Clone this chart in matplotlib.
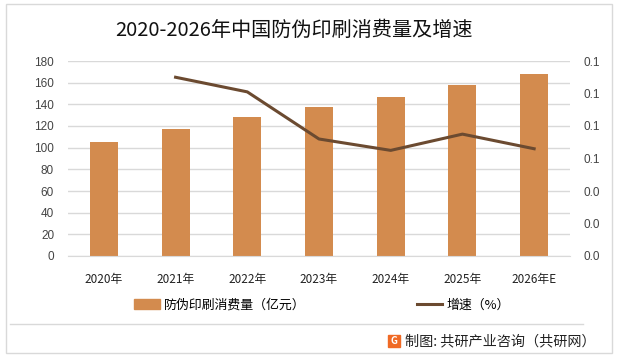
import numpy as np
import matplotlib.pyplot as plt
from matplotlib.patches import Rectangle
from matplotlib.lines import Line2D

plt.rcParams['font.family'] = ['Noto Sans CJK SC', 'DejaVu Sans']

years = ['2020年', '2021年', '2022年', '2023年', '2024年', '2025年', '2026年E']
volume = [105.5, 117, 128, 137.5, 147, 158, 168]          # 亿元
growth = [np.nan, 0.110, 0.101, 0.072, 0.065, 0.075, 0.066]

bar_color = '#D38B4E'
line_color = '#6B4A30'

W, H = 618, 358
fig = plt.figure(figsize=(W / 100, H / 100), dpi=100)

# plot area in pixels: x 68-570, y 61-256
ax = fig.add_axes([68 / W, 1 - 256 / H, (570 - 68) / W, (256 - 61) / H])
x = np.arange(len(years))
ax.bar(x, volume, width=0.39, color=bar_color, zorder=2)
ax.set_xlim(-0.5, len(years) - 0.5)
ax.set_ylim(0, 180)
ax.set_yticks(range(0, 181, 20))
ax.grid(axis='y', color='#D9D9D9', linewidth=1, zorder=0)
ax.set_xticks(x)
ax.set_xticklabels(years, fontsize=8.5, color='#222222')
ax.tick_params(axis='both', length=0)
ax.tick_params(axis='x', pad=12)
ax.tick_params(axis='y', labelsize=8.5, labelcolor='#444444', pad=10)
for t in ax.get_yticklabels():
    t.set_fontfamily('Liberation Sans')
for s in ax.spines.values():
    s.set_visible(False)
ax.spines['bottom'].set_visible(True)
ax.spines['bottom'].set_color('#D9D9D9')

ax2 = ax.twinx()
ax2.plot(x, growth, color=line_color, linewidth=2.2, zorder=3)
ax2.set_ylim(0, 0.12)
ax2.set_yticks(np.arange(0, 0.121, 0.02))
ax2.set_yticklabels(['%.1f' % v for v in np.arange(0, 0.121, 0.02)])
ax2.tick_params(axis='y', length=0, labelsize=8.5, labelcolor='#444444', pad=10)
for t in ax2.get_yticklabels():
    t.set_fontfamily('Liberation Sans')
for s in ax2.spines.values():
    s.set_visible(False)

fig.text(294 / W, 1 - 30 / H, '2020-2026年中国防伪印刷消费量及增速',
         ha='center', va='center', fontsize=14.5, color='#111111')

# legend
handles = [Rectangle((0, 0), 1, 1, color=bar_color),
           Line2D([0], [0], color=line_color, linewidth=2.2)]
fig.legend(handles, ['防伪印刷消费量（亿元）', '增速（%）'],
           loc='center', bbox_to_anchor=(322 / W, 1 - 305 / H), ncol=2,
           frameon=False, fontsize=9.3, columnspacing=8.6, handlelength=2.0,
           handletextpad=0.3)

# frame and separator
fig.add_artist(Rectangle((6 / W, 1 - 353 / H), (612 - 6) / W, (353 - 4) / H,
                         transform=fig.transFigure, fill=False,
                         edgecolor='#D9D9D9', linewidth=1))
fig.add_artist(Line2D([10 / W, 583 / W], [1 - 324 / H, 1 - 324 / H],
                      transform=fig.transFigure, color='#D9D9D9', linewidth=1))

# source with logo
fig.add_artist(Rectangle((388 / W, 1 - 347 / H), 12 / W, 12 / H,
                         transform=fig.transFigure, color='#F06A25'))
fig.text(394 / W, 1 - 341 / H, 'G', ha='center', va='center',
         fontsize=7, color='white', fontweight='bold')
fig.text(405 / W, 1 - 341 / H, '制图: 共研产业咨询（共研网）',
         ha='left', va='center', fontsize=10.2, color='#222222')

fig.savefig('out.png', dpi=100)
